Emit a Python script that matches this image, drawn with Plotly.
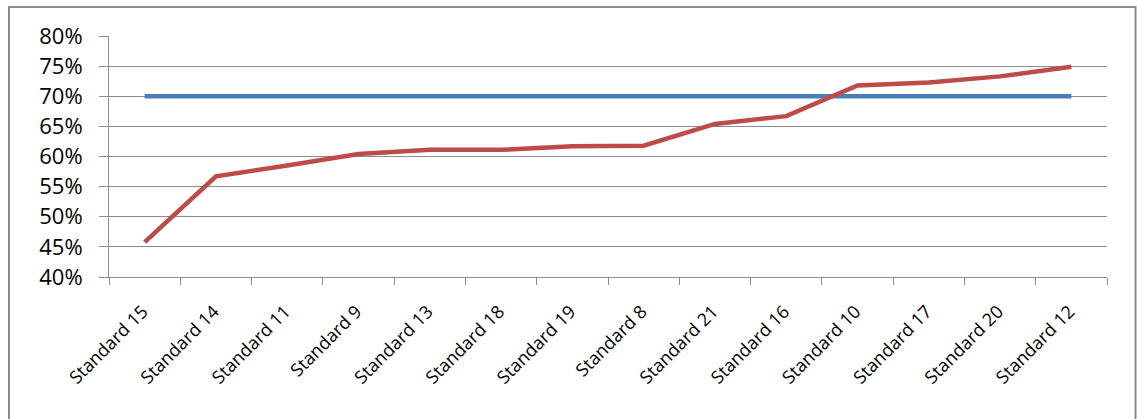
import plotly.graph_objects as go

# Categories sorted by score
standards = ["Standard 15", "Standard 14", "Standard 11", "Standard 9", "Standard 13",
             "Standard 18", "Standard 19", "Standard 8", "Standard 21", "Standard 16",
             "Standard 10", "Standard 17", "Standard 20", "Standard 12"]
scores = [0.458, 0.567, 0.585, 0.604, 0.611, 0.611, 0.617, 0.618,
          0.654, 0.667, 0.718, 0.723, 0.733, 0.749]
target = [0.70] * len(standards)
y_ticks = [0.40, 0.45, 0.50, 0.55, 0.60, 0.65, 0.70, 0.75, 0.80]

W, H = 1137, 419
L, R, T, B = 109, 30, 36, 142
plot_w, plot_h = W - L - R, H - T - B

def px_to_paper_x(px):
    return (px - L) / plot_w

def px_to_paper_y(py):
    return (H - B - py) / plot_h

fig = go.Figure()
fig.add_trace(go.Scatter(x=standards, y=target, mode="lines",
                         line=dict(color="#4A7EBB", width=4.5), name="Target"))
fig.add_trace(go.Scatter(x=standards, y=scores, mode="lines",
                         line=dict(color="#BE4B48", width=4.5), name="Score"))

# outer chart frame
fig.add_shape(type="rect", xref="paper", yref="paper",
              x0=px_to_paper_x(9), x1=px_to_paper_x(1135.5),
              y0=px_to_paper_y(430), y1=px_to_paper_y(7),
              line=dict(color="#8A8A8A", width=2), fillcolor="rgba(0,0,0,0)", layer="below")

fig.update_layout(
    width=W, height=H,
    margin=dict(l=L, r=R, t=T, b=B, pad=0),
    paper_bgcolor="white", plot_bgcolor="white",
    showlegend=False,
    font=dict(family="Open Sans, sans-serif", color="#000000"),
    xaxis=dict(
        type="category", range=[-0.5, len(standards) - 0.5],
        showgrid=False, showline=True, linecolor="#8C8C8C", linewidth=1,
        ticks="outside", tickson="boundaries", ticklen=7, tickcolor="#8C8C8C",
        tickangle=-45, tickfont=dict(size=18, family="Open Sans, sans-serif", color="#000000"),
        ticklabelstandoff=16, ticklabelshift=-2,
        zeroline=False, fixedrange=True,
    ),
    yaxis=dict(
        range=[0.40, 0.80], tickvals=y_ticks, tickformat=".0%",
        showgrid=True, gridcolor="#8C8C8C", gridwidth=1,
        showline=True, linecolor="#8C8C8C", linewidth=1,
        ticks="outside", ticklen=9, tickcolor="#8C8C8C",
        tickfont=dict(size=22, family="Open Sans, sans-serif", color="#000000"),
        ticklabelstandoff=12,
        zeroline=False, fixedrange=True,
    ),
)

fig.write_html("out.html")
